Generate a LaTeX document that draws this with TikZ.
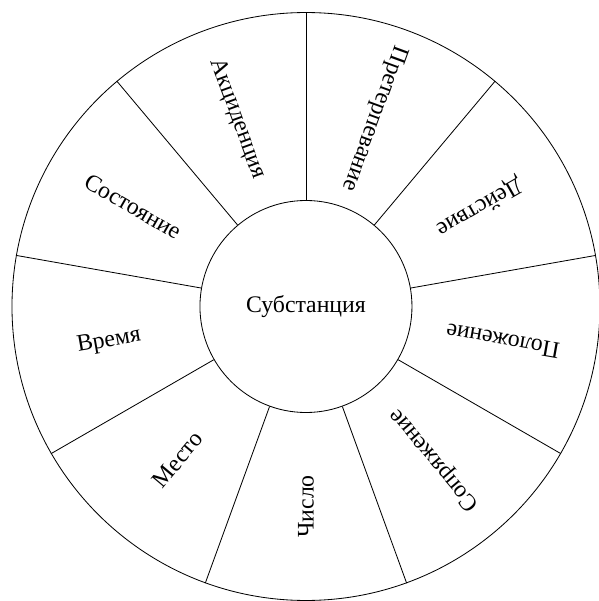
\documentclass[tikz,border=0pt]{standalone}
\usepackage{fontspec}
\setmainfont{Liberation Serif}
\tikzset{
	part/.style={font=\fontsize{11.5}{13}\selectfont, inner sep=1pt}
}
\begin{document}
\begin{tikzpicture}
		\useasboundingbox (-5.204,-5.009) rectangle (4.983,5.213);
		\node [circle,draw,minimum size=10cm] (rim) at (0,0) {};
		\node [circle,draw,minimum size=3.606cm,part] (s) at (0,0) {Субстанция};
		\node [part,rotate=210] (c1) at (30:3.4) {Действие};
		\node [part,rotate=250] (c2) at (70:3.4) {Претерпевание};
		\node [part,rotate=290] (c3) at (110:3.4) {Акциденция};
		\node [part,rotate=330] (c4) at (150:3.4) {Состояние};
		\node [part,rotate=10] (c5) at (190:3.4) {Время};
		\node [part,rotate=50] (c6) at (230:3.4) {Место};
		\node [part,rotate=90] (c7) at (270:3.4) {Число};
		\node [part,rotate=130] (c8) at (310:3.4) {Сопряжение};
		\node [part,rotate=170] (c9) at (350:3.4) {Положение};
		\path[draw]
					(s.10) edge (rim.10)
					(s.50) edge (rim.50)
					(s.90) edge (rim.90)
					(s.130) edge (rim.130)
					(s.170) edge (rim.170)
					(s.210) edge (rim.210)
					(s.250) edge (rim.250)
					(s.290) edge (rim.290)
					(s.330) edge (rim.330);
	\end{tikzpicture}
\end{document}
